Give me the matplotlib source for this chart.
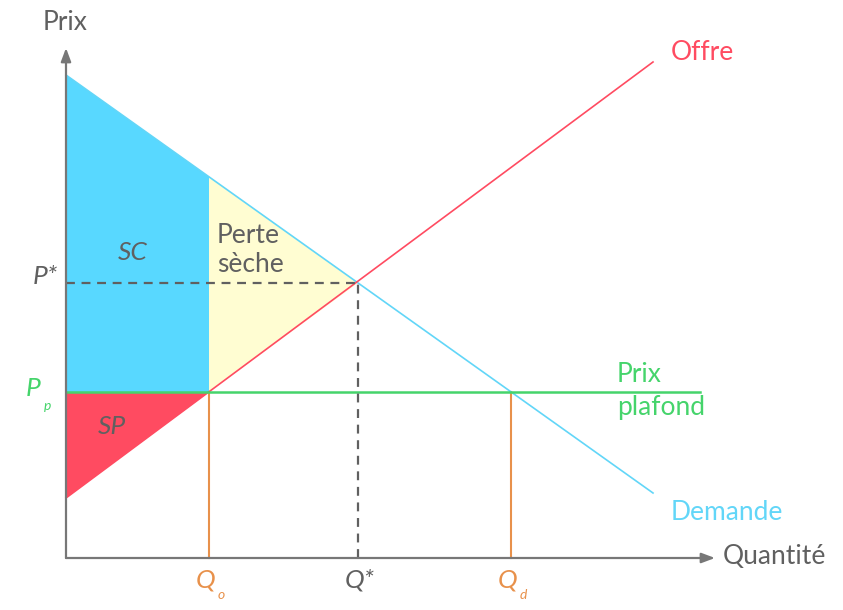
import numpy as np
import matplotlib.pyplot as plt

# data (arbitrary units, origin at the axes corner)
demand_q = [0, 587]
demand_p = [483, 65]
supply_q = [0, 587]
supply_p = [60, 496]
q_o, q_star, q_d = 143, 292, 445
p_star, p_ceiling = 275, 166
ceiling_end = 634

BLUE_FILL = '#58D8FF'
BLUE_LINE = '#62D6F8'
YELLOW = '#FFFDD2'
RED = '#FF4B61'
GREEN = '#45D46B'
ORANGE = '#E8914B'
GRAY = '#606060'

plt.rcParams['font.family'] = ['Lato', 'DejaVu Sans']

fig = plt.figure(figsize=(8.43, 6.10), dpi=100)
ax = fig.add_axes([0, 0, 1, 1])
ax.set_xlim(-66, 777)
ax.set_ylim(-52, 558)
ax.axis('off')


def demand(q):
    return np.interp(q, demand_q, demand_p)


def supply(q):
    return np.interp(q, supply_q, supply_p)


# consumer surplus
ax.fill([0, 0, q_o, q_o], [p_ceiling, demand(0), demand(q_o), p_ceiling],
        color=BLUE_FILL, lw=0, zorder=1)
# deadweight loss
ax.fill([q_o, q_o, q_star], [p_ceiling, demand(q_o), p_star],
        color=YELLOW, lw=0, zorder=1)
# producer surplus
ax.fill([0, 0, q_o], [supply(0), p_ceiling, p_ceiling],
        color=RED, lw=0, zorder=1)

ax.plot(demand_q, demand_p, color=BLUE_LINE, lw=1.2, zorder=3)
ax.plot(supply_q, supply_p, color=RED, lw=1.2, zorder=3)
ax.plot([0, ceiling_end], [p_ceiling, p_ceiling], color=GREEN, lw=1.8, zorder=4)

ax.plot([0, q_star], [p_star, p_star], color=GRAY, lw=1.6, ls=(0, (4, 3)), zorder=4)
ax.plot([q_star, q_star], [0, p_star], color=GRAY, lw=1.6, ls=(0, (4, 3)), zorder=4)
ax.plot([q_o, q_o], [0, p_ceiling], color=ORANGE, lw=1.5, zorder=2)
ax.plot([q_d, q_d], [0, p_ceiling], color=ORANGE, lw=1.5, zorder=2)

# axes with arrows
arrow = dict(arrowstyle='-|>,head_length=0.8,head_width=0.3', color='#777777', lw=1.6,
             shrinkA=0, shrinkB=0)
ax.annotate('', xy=(649, 0), xytext=(0, 0), arrowprops=arrow, zorder=5)
ax.annotate('', xy=(0, 510), xytext=(0, 0), arrowprops=arrow, zorder=5)

fs = 19
ax.text(-23, 535, 'Prix', fontsize=fs, color=GRAY, ha='left', va='center')
ax.text(657, 1, 'Quantité', fontsize=fs, color=GRAY, ha='left', va='center')
ax.text(605, 506, 'Offre', fontsize=fs, color=RED, ha='left', va='center')
ax.text(605, 46, 'Demande', fontsize=fs, color=BLUE_LINE, ha='left', va='center')
ax.text(551, 183, 'Prix', fontsize=fs, color=GREEN, ha='left', va='center')
ax.text(551, 150, 'plafond', fontsize=fs, color=GREEN, ha='left', va='center')
ax.text(151, 308, 'Perte\nsèche', fontsize=fs, color=GRAY, ha='left', va='center',
        linespacing=1.2)
ax.text(67, 306, 'SC', fontsize=fs, color=GRAY, ha='center', va='center',
        style='italic')
ax.text(46, 131, 'SP', fontsize=fs, color=GRAY, ha='center', va='center',
        style='italic')

ax.text(-8, 281, 'P*', fontsize=fs, color=GRAY, ha='right', va='center',
        style='italic')
ax.text(-40, 169, 'P', fontsize=fs, color=GREEN, ha='left', va='center',
        style='italic')
ax.text(-22, 152, 'p', fontsize=10, color=GREEN, ha='left', va='center',
        style='italic')

ax.text(q_o - 3, -22, 'Q', fontsize=fs, color=ORANGE, ha='center', va='center',
        style='italic')
ax.text(q_o + 9, -37, 'o', fontsize=10, color=ORANGE, ha='left', va='center',
        style='italic')
ax.text(q_star + 2, -22, 'Q*', fontsize=fs, color=GRAY, ha='center', va='center',
        style='italic')
ax.text(q_d - 3, -22, 'Q', fontsize=fs, color=ORANGE, ha='center', va='center',
        style='italic')
ax.text(q_d + 9, -37, 'd', fontsize=10, color=ORANGE, ha='left', va='center',
        style='italic')

fig.savefig('out.png', dpi=100)
